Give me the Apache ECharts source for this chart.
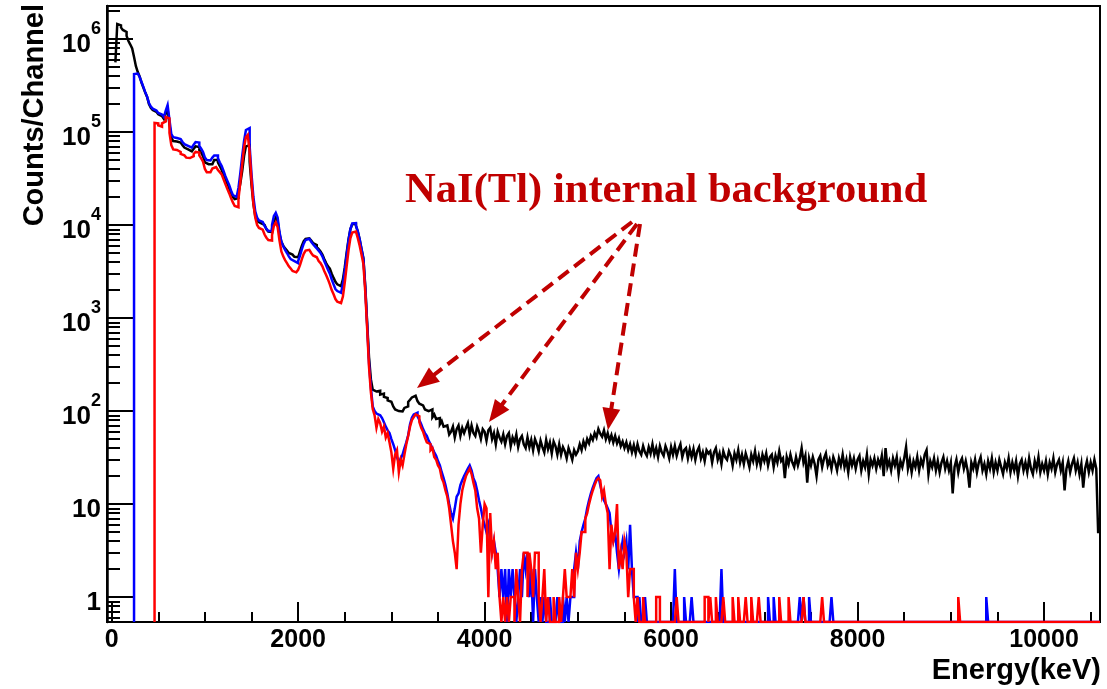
<!DOCTYPE html>
<html>
<head>
<meta charset="utf-8">
<script src="https://cdn.jsdelivr.net/npm/echarts@6/dist/echarts.min.js"></script>
<style>
  html, body { margin: 0; padding: 0; background: #ffffff; }
  #chart { width: 1107px; height: 689px; }
</style>
</head>
<body>
<div id="chart"></div>
<script>
// Channel width of the spectra below (keV); bin i covers [i*BIN_WIDTH, (i+1)*BIN_WIDTH)
const BIN_WIDTH = 20;
const E_MIN = -50;
const E_MAX = 10600;
const Y_MIN = 0.54;
const Y_MAX = 2.26e6;

const X_MAJOR_TICKS = [0, 2000, 4000, 6000, 8000, 10000];
const X_MINOR_TICKS = [500, 1000, 1500, 2500, 3000, 3500, 4500, 5000, 5500, 6500, 7000, 7500,
  8500, 9000, 9500, 10500];
const Y_DECADES = [1, 10, 100, 1000, 10000, 100000, 1000000];

// Black spectrum: counts per channel
const BLACK_COUNTS = [
  0, 0, 560000, 1450000, 1400000, 1330000, 1250000, 1190000, 1080000, 950000,
  870000, 790000, 640000, 510000, 440000, 395000, 340000, 300000, 265000, 238000,
  200000, 182000, 172000, 165000, 160000, 155000, 148000, 142000, 138000, 158000,
  175000, 120000, 86000, 80000, 79000, 78000, 77000, 76000, 72000, 68000,
  65000, 63000, 62000, 63000, 66000, 70000, 69000, 64000, 60000, 55000,
  47000, 45000, 44500, 45000, 47000, 50000, 50000, 47000, 43000, 39000,
  35000, 31000, 28000, 25000, 22000, 20000, 19000, 19500, 22000, 28000,
  38000, 55000, 70000, 72000, 48000, 27000, 17000, 12500, 11000, 10500,
  10200, 10000, 9600, 9000, 8500, 8400, 9200, 11000, 12000, 11000,
  8000, 6600, 6000, 5600, 5300, 5000, 4800, 4650, 4550, 4500,
  4700, 5200, 6000, 6700, 7100, 7200, 7100, 6800, 6400, 6100,
  5800, 5500, 5200, 4800, 4300, 3900, 3600, 3400, 3000, 2700,
  2450, 2300, 2200, 2250, 2600, 3500, 5000, 7000, 9000, 10200,
  10300, 9800, 8500, 7000, 5500, 4400, 2200, 900, 380, 220,
  170, 162, 158, 165, 150, 154, 142, 138, 130, 126,
  120, 112, 104, 100, 96, 99, 102, 108, 112, 125,
  132, 140, 146, 142, 128, 120, 115, 110, 104, 100,
  96, 104, 86, 92, 82, 84, 72, 78, 68, 70,
  72, 56, 60, 68, 52, 64, 70, 54, 66, 58,
  66, 74, 56, 70, 58, 54, 68, 60, 50, 64,
  60, 48, 62, 66, 50, 58, 44, 60, 52, 47,
  56, 44, 54, 58, 42, 52, 46, 56, 41, 50,
  54, 44, 40, 52, 41, 49, 38, 50, 44, 37,
  48, 41, 36, 49, 39, 46, 35, 47, 42, 34,
  44, 34, 41, 37, 31, 40, 35, 30, 38, 34,
  37, 44, 38, 47, 41, 50, 45, 54, 49, 58,
  52, 64, 57, 53, 62, 50, 58, 48, 55, 46,
  54, 45, 51, 42, 47, 40, 46, 38, 44, 36,
  43, 35, 44, 37, 34, 42, 36, 33, 41, 35,
  44, 34, 40, 32, 42, 36, 33, 42, 37, 31,
  41, 34, 42, 33, 39, 44, 32, 38, 40, 31,
  39, 32, 39, 30, 37, 41, 31, 36, 29, 38,
  35, 37, 28, 36, 40, 30, 35, 27, 37, 32,
  30, 37, 33, 26, 35, 30, 38, 28, 34, 27,
  35, 30, 25, 34, 29, 37, 27, 33, 26, 34,
  29, 35, 26, 32, 34, 25, 33, 28, 37, 29,
  31, 19, 32, 27, 34, 28, 25, 32, 26, 31,
  40, 28, 33, 17, 31, 26, 32, 27, 20, 30,
  33, 25, 31, 35, 26, 30, 24, 32, 28, 23,
  31, 26, 34, 25, 30, 22, 32, 26, 31, 24,
  30, 33, 23, 29, 25, 34, 21, 30, 26, 31,
  24, 30, 26, 33, 20, 40, 25, 29, 23, 31,
  26, 32, 21, 29, 25, 31, 41, 24, 30, 22,
  29, 25, 32, 23, 30, 26, 34, 38, 21, 29,
  25, 31, 23, 29, 22, 28, 32, 24, 29, 23,
  28, 13, 25, 30, 22, 28, 31, 24, 29, 23,
  15, 28, 24, 30, 22, 28, 32, 23, 27, 21,
  29, 24, 31, 22, 28, 23, 30, 25, 21, 28,
  24, 31, 22, 28, 23, 29, 20, 27, 30, 23,
  28, 22, 31, 24, 21, 29, 24, 32, 22, 27,
  23, 29, 21, 28, 24, 31, 22, 27, 30, 23,
  28, 14, 24, 29, 22, 27, 31, 23, 28, 21,
  27, 15, 24, 29, 22, 28, 23, 30, 24, 5
];

// Blue spectrum: counts per channel
const BLUE_COUNTS = [
  0, 0, 0, 0, 0, 0, 0, 0, 0, 0,
  0, 0, 420000, 425000, 410000, 390000, 345000, 305000, 268000, 240000,
  205000, 188000, 178000, 170000, 165000, 160000, 154000, 148000, 145000, 170000,
  195000, 135000, 95000, 88000, 86000, 85000, 84000, 82000, 78000, 74000,
  71000, 69000, 68000, 69000, 73000, 78000, 77000, 71000, 66000, 61000,
  53000, 50000, 49500, 50500, 53000, 56000, 56000, 52000, 47000, 43000,
  38000, 33500, 30000, 27000, 23500, 21000, 20000, 20500, 25000, 36000,
  55000, 80000, 105000, 110000, 70000, 35000, 20000, 14000, 12000, 11200,
  10800, 10400, 9800, 9100, 8600, 8600, 10000, 12500, 13500, 12000,
  8400, 6600, 5900, 5400, 5000, 4600, 4300, 4100, 3950, 3900,
  4100, 4700, 5500, 6300, 6900, 7100, 7000, 6600, 6200, 5900,
  5600, 5300, 5000, 4600, 4100, 3700, 3300, 3000, 2600, 2300,
  2050, 1950, 1870, 1900, 2300, 3200, 4700, 6800, 9000, 10400,
  10500, 9900, 8500, 7000, 5500, 4300, 2100, 850, 330, 180,
  112, 100, 94, 90, 86, 84, 76, 68, 62, 58,
  50, 44, 38, 32, 28, 31, 34, 40, 46, 55,
  72, 85, 92, 96, 88, 80, 72, 64, 58, 54,
  48, 44, 40, 36, 33, 29, 26, 22, 19, 16,
  13, 10, 8, 7, 9, 12, 13, 16, 18, 20,
  22, 24, 26, 23, 19, 17, 14, 11, 9, 7,
  6, 5, 6, 4, 3, 4, 3, 2, 1, 2,
  1, 2, 0, 2, 1, 2, 1, 0, 1, 2,
  1, 3, 2, 3, 1, 2, 0, 2, 1, 0,
  1, 0, 1, 0, 0, 1, 0, 0, 0, 1,
  0, 0, 1, 0, 1, 0, 1, 1, 2, 3,
  2, 4, 5, 6, 7, 9, 11, 13, 15, 17,
  19, 20, 16, 13, 11, 10, 9, 8, 5, 4,
  5, 3, 2, 3, 4, 3, 4, 2, 6, 2,
  1, 1, 0, 1, 0, 0, 1, 0, 0, 0,
  0, 0, 0, 0, 0, 0, 0, 0, 0, 0,
  0, 0, 2, 0, 0, 0, 0, 1, 0, 0,
  0, 1, 0, 0, 0, 0, 0, 0, 0, 0,
  0, 0, 0, 0, 0, 0, 0, 2, 0, 0,
  0, 0, 0, 0, 0, 0, 0, 0, 0, 0,
  0, 0, 0, 0, 0, 0, 0, 0, 0, 0,
  0, 0, 1, 0, 0, 1, 0, 0, 0, 0,
  0, 0, 0, 0, 0, 0, 0, 0, 0, 1,
  0, 1, 0, 0, 1, 0, 0, 0, 0, 0,
  0, 0, 0, 0, 0, 0, 1, 0, 0, 0,
  0, 0, 0, 0, 0, 0, 0, 0, 0, 0,
  0, 0, 0, 0, 0, 0, 0, 0, 0, 0,
  0, 0, 0, 0, 0, 0, 0, 0, 0, 0,
  0, 0, 0, 0, 0, 0, 0, 0, 0, 0,
  0, 0, 0, 0, 0, 0, 0, 0, 0, 0,
  0, 0, 0, 0, 0, 0, 0, 0, 0, 0,
  0, 0, 0, 0, 0, 0, 0, 0, 0, 0,
  0, 0, 0, 0, 0, 0, 0, 0, 0, 1,
  0, 0, 0, 0, 0, 0, 0, 0, 0, 0,
  0, 0, 0, 0, 0, 0, 0, 0, 0, 0,
  0, 0, 0, 0, 0, 0, 0, 0, 0, 0,
  0, 0, 0, 0, 0, 0, 0, 0, 0, 0,
  0, 0, 0, 0, 0, 0, 0, 0, 0, 0,
  0, 0, 0, 0, 0, 0, 0, 0, 0, 0
];

// Red spectrum: counts per channel
const RED_COUNTS = [
  0, 0, 0, 0, 0, 0, 0, 0, 0, 0,
  0, 0, 0, 0, 0, 0, 0, 0, 0, 0,
  0, 0, 0, 125000, 124000, 118000, 114000, 124000, 130000, 145000,
  140000, 98000, 72000, 65000, 64000, 63500, 61000, 58000, 56000, 54000,
  53000, 52500, 53000, 55000, 58000, 61000, 60000, 56000, 52000, 48000,
  40000, 37000, 37000, 38500, 40500, 42000, 41500, 39000, 37000, 35000,
  31000, 27500, 24500, 22000, 19500, 17500, 16000, 15500, 19000, 29000,
  45000, 68000, 88000, 93000, 60000, 30000, 17000, 12000, 10000, 9300,
  8900, 8500, 7900, 7300, 6900, 6800, 7800, 9800, 10700, 9500,
  6800, 5200, 4600, 4200, 3900, 3600, 3400, 3200, 3100, 3100,
  3300, 3700, 4300, 4900, 5300, 5400, 5300, 5000, 4700, 4500,
  4300, 4100, 3900, 3600, 3200, 2900, 2600, 2300, 2000, 1800,
  1600, 1500, 1450, 1450, 1700, 2400, 3600, 5300, 7200, 8300,
  8500, 8100, 7200, 6000, 4800, 3800, 1900, 780, 300, 160,
  105, 90, 66, 82, 74, 60, 68, 52, 58, 46,
  36, 24, 34, 38, 22, 30, 26, 34, 44, 54,
  68, 80, 86, 92, 88, 76, 66, 60, 52, 46,
  44, 38, 40, 32, 30, 26, 24, 19, 17, 14,
  12, 9, 6, 4, 3, 2, 6, 10, 14, 17,
  20, 22, 24, 21, 17, 14, 9, 7, 3, 6,
  10, 9, 1, 8, 3, 4, 2, 3, 1, 0,
  1, 0, 1, 0, 1, 1, 0, 2, 1, 0,
  2, 3, 3, 1, 3, 2, 1, 3, 3, 1,
  0, 1, 2, 0, 1, 0, 0, 1, 0, 0,
  1, 0, 1, 2, 1, 1, 1, 2, 1, 3,
  2, 3, 5, 5, 7, 8, 10, 12, 14, 16,
  18, 19, 18, 12, 14, 10, 8, 2, 6, 4,
  5, 10, 2, 3, 2, 4, 3, 1, 2, 2,
  1, 0, 1, 0, 0, 1, 0, 0, 0, 0,
  0, 0, 1, 1, 0, 0, 0, 0, 0, 0,
  0, 0, 0, 1, 0, 0, 0, 0, 0, 0,
  0, 0, 0, 0, 0, 0, 0, 0, 1, 1,
  0, 1, 0, 0, 1, 0, 0, 0, 1, 0,
  0, 0, 0, 1, 0, 0, 1, 0, 0, 0,
  1, 0, 0, 1, 0, 0, 0, 1, 0, 0,
  0, 0, 0, 0, 0, 0, 0, 0, 1, 0,
  0, 0, 0, 1, 0, 0, 0, 0, 0, 0,
  0, 1, 0, 0, 0, 0, 0, 0, 0, 0,
  0, 1, 0, 0, 0, 0, 0, 0, 0, 0,
  0, 0, 0, 0, 0, 0, 0, 0, 0, 0,
  0, 0, 0, 0, 0, 0, 0, 0, 0, 0,
  0, 0, 0, 0, 0, 0, 0, 0, 0, 0,
  0, 0, 0, 0, 0, 0, 0, 0, 0, 0,
  0, 0, 0, 0, 0, 0, 0, 0, 0, 0,
  0, 0, 0, 0, 0, 0, 0, 0, 0, 0,
  0, 0, 0, 0, 1, 0, 0, 0, 0, 0,
  0, 0, 0, 0, 0, 0, 0, 0, 0, 0,
  0, 0, 0, 0, 0, 0, 0, 0, 0, 0,
  0, 0, 0, 0, 0, 0, 0, 0, 0, 0,
  0, 0, 0, 0, 0, 0, 0, 0, 0, 0,
  0, 0, 0, 0, 0, 0, 0, 0, 0, 0,
  0, 0, 0, 0, 0, 0, 0, 0, 0, 0,
  0, 0, 0, 0, 0, 0, 0, 0, 0, 0
];

const X_TITLE = 'Energy(keV)';
const Y_TITLE = 'Counts/Channel';
const ANNOTATION_TEXT = 'NaI(Tl) internal background';

// Histogram outline: each channel contributes its left and right edge at
// its count, so consecutive channels join with vertical risers.
// Empty channels sit on the floor of the log axis; optionally the outline
// rises from the floor at the first filled channel.
function histPoints(counts, riseFromFloor) {
  const first = counts.findIndex(c => c > 0);
  const pts = [];
  if (riseFromFloor) pts.push([first * BIN_WIDTH, Y_MIN]);
  for (let i = first; i < counts.length; i++) {
    const v = counts[i] > 0 ? counts[i] : Y_MIN;
    pts.push([i * BIN_WIDTH, v]);
    pts.push([(i + 1) * BIN_WIDTH, v]);
  }
  return pts;
}

function histSeries(name, counts, color, riseFromFloor, z) {
  return {
    name: name,
    type: 'line',
    xAxisIndex: 0,
    yAxisIndex: 0,
    data: histPoints(counts, riseFromFloor),
    symbol: 'none',
    showSymbol: false,
    clip: true,
    silent: true,
    z: z,
    lineStyle: { color: color, width: 2.5, join: 'miter', cap: 'butt' },
    itemStyle: { color: color }
  };
}

// minor log ticks at 2..9 x 10^n, placed on a helper axis in log10 units
const yMinorLog = [];
[0.1].concat(Y_DECADES).forEach(d => {
  for (let k = 2; k <= 9; k++) {
    const v = k * d;
    if (v > Y_MIN && v < Y_MAX) yMinorLog.push(Math.log10(v));
  }
});

const FONT = '"Liberation Sans", Arial, Helvetica, sans-serif';
const ARROW_COLOR = '#c00000';

function arrow(x1, y1, x2, y2) {
  const dx = x2 - x1, dy = y2 - y1;
  const len = Math.sqrt(dx * dx + dy * dy);
  const ux = dx / len, uy = dy / len;
  const headLen = 22, headHalf = 9;
  const bx = x2 - ux * headLen, by = y2 - uy * headLen;
  return [
    {
      type: 'line',
      shape: { x1: x1, y1: y1, x2: bx + ux * 2, y2: by + uy * 2 },
      style: { stroke: ARROW_COLOR, lineWidth: 4, lineDash: [13, 7] },
      z: 100
    },
    {
      type: 'polygon',
      shape: { points: [[x2, y2], [bx - uy * headHalf, by + ux * headHalf], [bx + uy * headHalf, by - ux * headHalf]] },
      style: { fill: ARROW_COLOR },
      z: 100
    }
  ];
}

const chart = echarts.init(document.getElementById('chart'), null, { renderer: 'canvas' });

const option = {
  backgroundColor: '#ffffff',
  animation: false,
  grid: {
    left: 107, right: 7, top: 6, bottom: 67,
    show: true, borderColor: '#000000', borderWidth: 2, backgroundColor: 'transparent',
    outerBoundsMode: 'none'
  },
  xAxis: [
    {
      type: 'value', position: 'bottom', min: E_MIN, max: E_MAX,
      axisLine: { show: true, onZero: false, lineStyle: { color: '#000', width: 2 } },
      axisTick: { show: true, inside: true, length: 20, lineStyle: { color: '#000', width: 2 }, customValues: X_MAJOR_TICKS },
      axisLabel: {
        show: true, customValues: X_MAJOR_TICKS, margin: 6,
        formatter: v => String(v),
        fontFamily: FONT, fontWeight: 'bold', fontSize: 25, color: '#000'
      },
      splitLine: { show: false }
    },
    {
      type: 'value', position: 'bottom', min: E_MIN, max: E_MAX,
      axisLine: { show: false, onZero: false },
      axisTick: { show: true, inside: true, length: 10, lineStyle: { color: '#000', width: 2 }, customValues: X_MINOR_TICKS },
      axisLabel: { show: false },
      splitLine: { show: false }
    }
  ],
  yAxis: [
    {
      type: 'log', logBase: 10, position: 'left', min: Y_MIN, max: Y_MAX,
      axisLine: { show: true, onZero: false, lineStyle: { color: '#000', width: 2.5 } },
      axisTick: { show: true, inside: true, length: 26, lineStyle: { color: '#000', width: 2 } },
      axisLabel: {
        show: true, margin: 6,
        formatter: function (v) {
          const e = Math.log10(v);
          const r = Math.round(e);
          if (Math.abs(e - r) > 1e-6) return '';
          if (r === 0) return '{b|1}';
          if (r === 1) return '{b|10}';
          return '{b|10}{s|' + r + '}';
        },
        rich: {
          b: { fontFamily: FONT, fontWeight: 'bold', fontSize: 26, color: '#000', lineHeight: 38, verticalAlign: 'bottom' },
          s: { fontFamily: FONT, fontWeight: 'bold', fontSize: 18, color: '#000', lineHeight: 18, verticalAlign: 'top' }
        }
      },
      splitLine: { show: false },
      minorTick: { show: false }
    },
    {
      type: 'value', position: 'left', min: Math.log10(Y_MIN), max: Math.log10(Y_MAX),
      axisLine: { show: false, onZero: false },
      axisTick: { show: true, inside: true, length: 13, lineStyle: { color: '#000', width: 2 }, customValues: yMinorLog },
      axisLabel: { show: false },
      splitLine: { show: false }
    }
  ],
  series: [
    histSeries('black', BLACK_COUNTS, '#000000', false, 2),
    histSeries('blue', BLUE_COUNTS, '#0000ff', true, 3),
    histSeries('red', RED_COUNTS, '#ff0000', true, 4)
  ],
  graphic: [
    {
      type: 'text', x: 35, y: 4, rotation: Math.PI / 2, z: 100,
      style: {
        text: Y_TITLE, font: 'bold 29px ' + FONT, fill: '#000',
        textAlign: 'right', textVerticalAlign: 'middle'
      }
    },
    {
      type: 'text', x: 1101, y: 671, z: 100,
      style: {
        text: X_TITLE, font: 'bold 29px ' + FONT, fill: '#000',
        textAlign: 'right', textVerticalAlign: 'middle'
      }
    },
    {
      type: 'text', x: 405, y: 169, z: 100,
      style: {
        text: ANNOTATION_TEXT,
        font: 'bold 42.6px "Liberation Serif", "Times New Roman", serif',
        fill: ARROW_COLOR, textVerticalAlign: 'top'
      }
    }
  ].concat(arrow(632, 222, 417, 388), arrow(637, 224, 489, 422), arrow(640, 224, 608, 430))
};

chart.setOption(option);
</script>
</body>
</html>
